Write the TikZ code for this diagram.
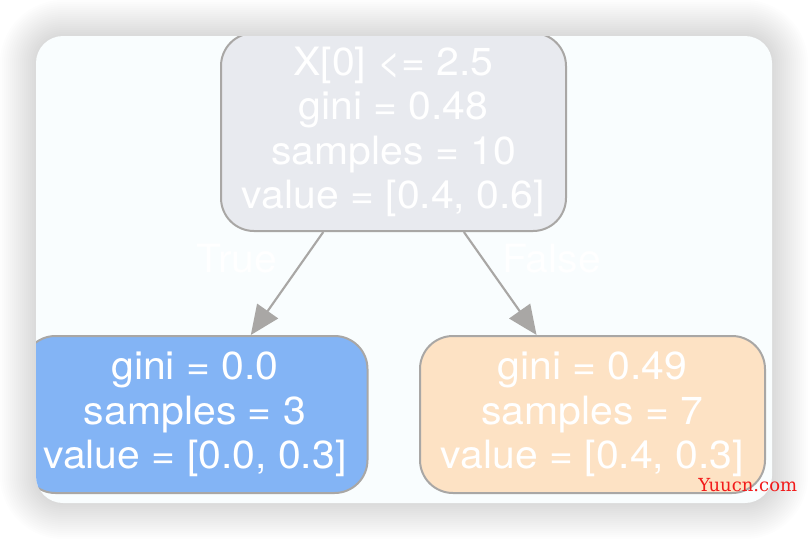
\documentclass[tikz,border=0pt]{standalone}
\usepackage{fontspec}
\usepackage{xcolor}
\usepackage{tikz}
\usetikzlibrary{arrows.meta}
\newfontfamily\treefont[FakeStretch=1.05]{TeX Gyre Heros}
\newfontfamily\markfont{DejaVu Serif}
\definecolor{C_CARD} {HTML}{F9FDFE}
\definecolor{C_ROOT} {HTML}{E8EAEF}
\definecolor{C_LEFT} {HTML}{83B4F5}
\definecolor{C_RIGHT}{HTML}{FDE2C4}
\definecolor{C_LINE} {HTML}{A9A7A5}
\definecolor{C_MARK} {HTML}{F21A1A}
\tikzset{
  %% -- decision tree: generic box --
  DT/box/.style={
    draw=C_LINE, line width=1.5pt, rounded corners=24.75pt,
    minimum width=258.75pt, inner sep=0pt,
    align=center, text=white,
    font=\treefont\fontsize{29.25}{33.4}\selectfont
  },
  %% -- decision tree: split node --
  DT/split/.style={DT/box, fill=C_ROOT, minimum height=148.5pt},
  %% -- decision tree: leaf node --
  DT/leaf/.style={DT/box, minimum height=117.75pt},
  %% -- decision tree: edge --
  DT/edge/.style={-{Triangle[length=22pt, width=19pt]}, line width=1.6pt, color=C_LINE},
  %% -- decision tree: edge label --
  DT/lbl/.style={anchor=base, inner sep=0pt, text=white,
    font=\treefont\fontsize{29.25}{33.4}\selectfont},
}

\begin{document}
\begin{tikzpicture}[x=0.75pt, y=-0.75pt]
%% Canvas
\fill[white] (0,0) rectangle (808,540);
\useasboundingbox (0,0) rectangle (808,540);

%% Card shadow
\foreach \k [evaluate=\k as \rr using 20.25+1.5*\k,
             evaluate=\k as \d using 2*\k] in {1,...,18}
  \fill[black, opacity=0.008, rounded corners=\rr pt]
    (36-\d, 36-\d) rectangle (772+\d, 503+\d);

%% Card
\fill[C_CARD, rounded corners=20.25pt] (36,36) rectangle (772,503);

\begin{scope}
\clip[rounded corners=20.25pt] (36,36) rectangle (772,503);
%% Nodes
\node[DT/split] (root) at (393.5,132)
  {X[0] <= 2.5\\gini = 0.48\\samples = 10\\value = [0.4, 0.6]};
\node[DT/leaf, fill=C_LEFT]  (left)  at (195,414.5)
  {gini = 0.0\\samples = 3\\value = [0.0, 0.3]};
\node[DT/leaf, fill=C_RIGHT] (right) at (592.5,414.5)
  {gini = 0.49\\samples = 7\\value = [0.4, 0.3]};

%% Root → leaves
\draw[DT/edge] (root) -- (left);
\draw[DT/edge] (root) -- (right);

%% Edge labels
\node[DT/lbl] (ltrue)  at (237,272)   {True};
\node[DT/lbl] (lfalse) at (551.5,272) {False};
\end{scope}

%% Watermark
\node[font=\markfont\fontsize{13.5}{15}\selectfont, text=C_MARK,
  anchor=base west, inner sep=0pt] (mark) at (698,491) {Yuucn.com};
\end{tikzpicture}
\end{document}
